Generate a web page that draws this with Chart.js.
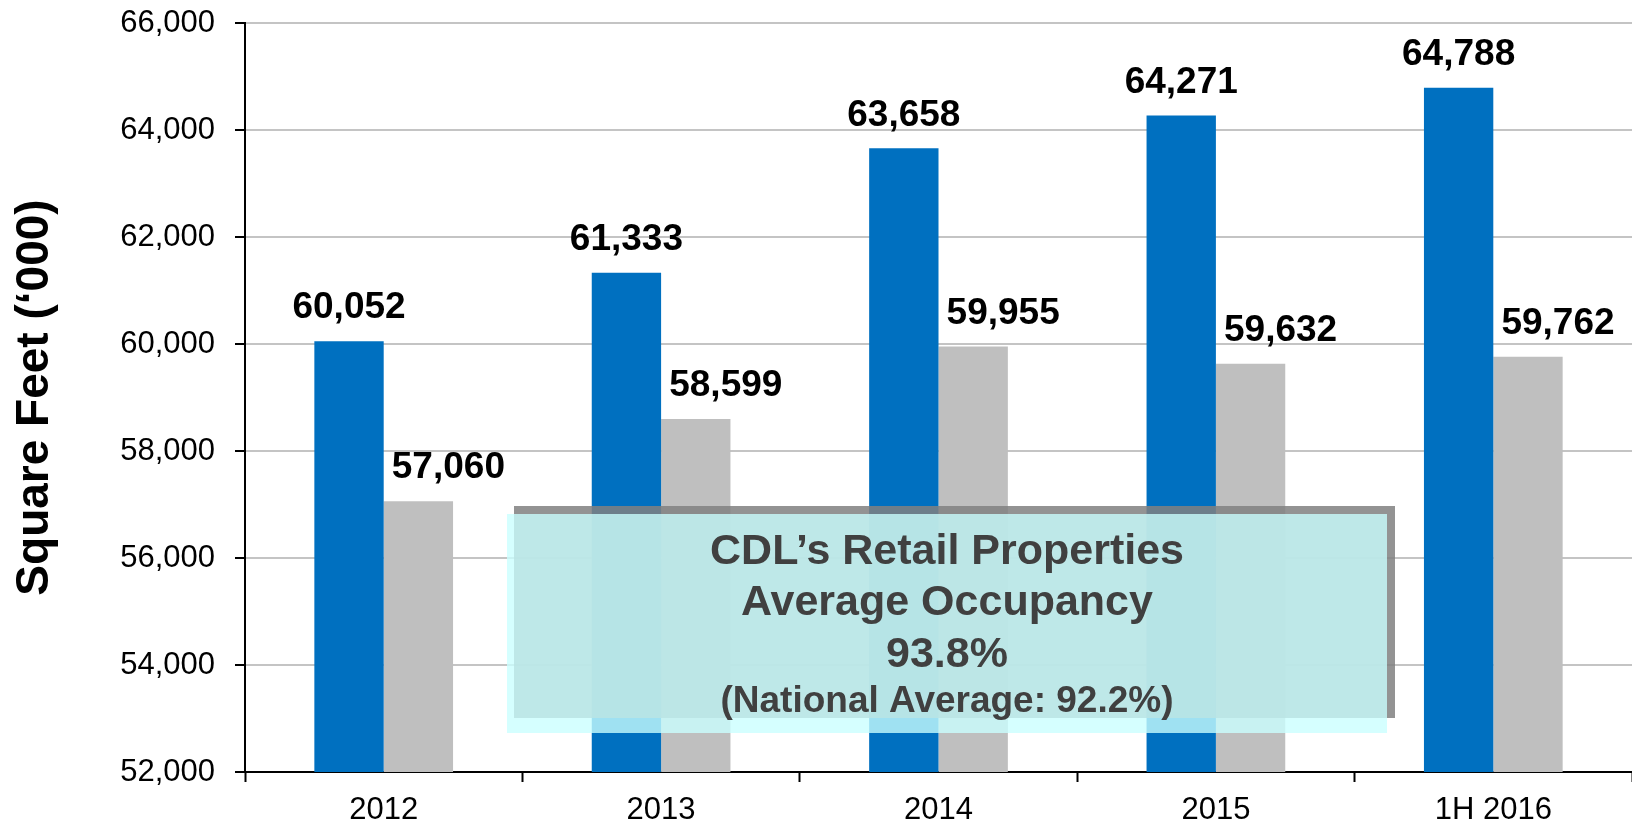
<!DOCTYPE html>
<html>
<head>
<meta charset="utf-8">
<title>CDL Retail Properties</title>
<script src="https://cdn.jsdelivr.net/npm/chart.js@4/dist/chart.umd.min.js"></script>
<style>
  html, body { margin: 0; padding: 0; background: #fff; }
  #wrap { width: 1632px; height: 826px; }
</style>
</head>
<body>
<div id="wrap"><canvas id="chart" width="1632" height="826"></canvas></div>
<script>
// chart data
const categories = ['2012', '2013', '2014', '2015', '1H 2016'];
const cdlValues = [60052, 61333, 63658, 64271, 64788];
const nationalValues = [57060, 58599, 59955, 59632, 59762];
const yTicks = [52000, 54000, 56000, 58000, 60000, 62000, 64000, 66000];
const boxLines = ['CDL\u2019s Retail Properties', 'Average Occupancy', '93.8%', '(National Average: 92.2%)'];

const FONT = '"Liberation Sans", Arial, Helvetica, sans-serif';

// value labels above bars (second series shifted a bit to the right)
const barLabels = {
  id: 'barLabels',
  afterDatasetsDraw(chart) {
    const ctx = chart.ctx;
    ctx.save();
    ctx.font = 'bold 37px ' + FONT;
    ctx.fillStyle = '#000';
    ctx.textAlign = 'center';
    ctx.textBaseline = 'middle';
    chart.data.datasets.forEach((ds, i) => {
      const meta = chart.getDatasetMeta(i);
      const dx = i === 1 ? 30 : 0;
      meta.data.forEach((bar, j) => {
        ctx.fillText(ds.data[j].toLocaleString('en-US'), bar.x + dx, bar.y - 33);
      });
    });
    ctx.restore();
  }
};

// occupancy call-out box over the bars
const occupancyBox = {
  id: 'occupancyBox',
  afterDatasetsDraw(chart) {
    const ctx = chart.ctx;
    const a = chart.chartArea;
    const left = a.left + 262, top = a.bottom - 258;
    const w = 880, h = 219;
    ctx.save();
    // shadow
    ctx.fillStyle = 'rgba(128,128,128,0.85)';
    ctx.fillRect(left + 7, top - 8, w + 1, h - 7);
    // light box
    ctx.fillStyle = 'rgba(202,255,255,0.79)';
    ctx.fillRect(left, top, w, h);
    ctx.fillStyle = '#404040';
    ctx.textAlign = 'center';
    ctx.textBaseline = 'middle';
    const cx = left + w / 2;
    const offs = [38, 89, 141, 188];
    boxLines.forEach((t, i) => {
      ctx.font = (i === 3 ? 'bold 37px ' : 'bold 43px ') + FONT;
      ctx.fillText(t, cx, top + offs[i]);
    });
    ctx.restore();
  }
};

const ctx = document.getElementById('chart').getContext('2d');
new Chart(ctx, {
  type: 'bar',
  data: {
    labels: categories,
    datasets: [
      { label: 'CDL', data: cdlValues, backgroundColor: '#0070C0', categoryPercentage: 0.5, barPercentage: 1.0 },
      { label: 'National', data: nationalValues, backgroundColor: '#BFBFBF', categoryPercentage: 0.5, barPercentage: 1.0 }
    ]
  },
  options: {
    responsive: false,
    animation: false,
    devicePixelRatio: 1,
    layout: { padding: { top: 23, right: 0, bottom: 0, left: 0 } },
    plugins: {
      legend: { display: false },
      tooltip: { enabled: false }
    },
    scales: {
      x: {
        offset: true,
        grid: {
          offset: true,
          drawOnChartArea: false,
          drawTicks: true,
          tickLength: 10,
          tickColor: '#000',
          tickWidth: 2
        },
        border: { display: true, color: '#000', width: 2 },
        ticks: {
          color: '#000',
          padding: 10,
          font: { family: FONT, size: 31 }
        },
        afterFit(scale) { scale.height = 54; }
      },
      y: {
        min: yTicks[0],
        max: yTicks[yTicks.length - 1],
        afterBuildTicks(scale) { scale.ticks = yTicks.map(v => ({ value: v })); },
        grid: {
          color: c => (c.tick && c.tick.value === yTicks[0]) ? 'rgba(0,0,0,0)' : '#c4c4c4',
          lineWidth: 2,
          tickColor: '#000',
          tickWidth: 2,
          tickLength: 10
        },
        border: { display: true, color: '#000', width: 2 },
        ticks: {
          color: '#000',
          padding: 20,
          font: { family: FONT, size: 31 },
          callback: v => v.toLocaleString('en-US')
        },
        title: {
          display: true,
          text: 'Square Feet (\u2018000)',
          color: '#000',
          font: { family: FONT, size: 46, weight: 'bold' },
          padding: { top: 8, bottom: 0 }
        },
        afterFit(scale) {
          scale.width = 245;
          scale.paddingTop = 10;
          scale.paddingBottom = 10;
        }
      }
    }
  },
  plugins: [occupancyBox, barLabels]
});
</script>
</body>
</html>
